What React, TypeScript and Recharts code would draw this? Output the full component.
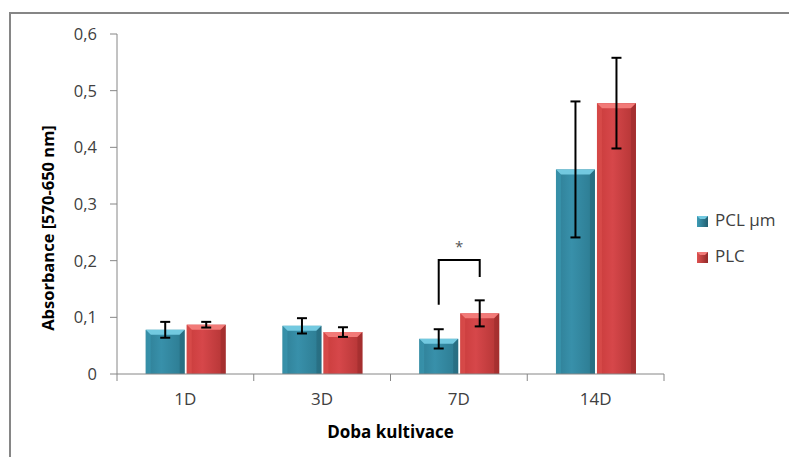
import React from 'react';
import {
  BarChart,
  Bar,
  XAxis,
  YAxis,
  ErrorBar,
  Legend,
  Label,
} from 'recharts';

// absorbance per cultivation time
const categories = ['1D', '3D', '7D', '14D'];
const pclValues = [0.078, 0.085, 0.062, 0.361];
const pclErrors = [0.014, 0.0135, 0.017, 0.12];
const plcValues = [0.087, 0.074, 0.107, 0.478];
const plcErrors = [0.005, 0.0085, 0.023, 0.08];
const yTicks = [0, 0.1, 0.2, 0.3, 0.4, 0.5, 0.6];

// significance bracket between the two bars of one category (axis units)
const sigCategory = '7D';
const sigLeftFoot = 0.122;
const sigRightFoot = 0.171;
const sigTop = 0.201;
const sigStar = 0.226;

const data = categories.map((c, i) => ({
  name: c,
  pcl: pclValues[i],
  pclErr: pclErrors[i],
  plc: plcValues[i],
  plcErr: plcErrors[i],
}));

const FONT = '"Open Sans", "Noto Sans", sans-serif';
const AXIS = '#868686';
const TEXT = '#404040';
const BAR_GAP = 2;
const X_TICK_SIZE = 7;
const X_TICK_MARGIN = 12;

const palette = {
  pcl: { id: 'pclBody', top: '#72c9e0', side: '#3d9bb5', dark: '#235f70' },
  plc: { id: 'plcBody', top: '#f27a78', side: '#de5250', dark: '#922828' },
};

function bevelParts(x: number, y: number, w: number, h: number, c: typeof palette.pcl) {
  const b = Math.min(5, w / 4, h / 2);
  return (
    <>
      <rect x={x} y={y} width={w} height={h} fill={`url(#${c.id})`} />
      <polygon
        points={`${x},${y} ${x + w},${y} ${x + w - b},${y + b} ${x + b},${y + b}`}
        fill={c.top}
      />
      <polygon
        points={`${x},${y} ${x + b},${y + b} ${x + b},${y + h} ${x},${y + h}`}
        fill={c.side}
        opacity={0.55}
      />
      <polygon
        points={`${x + w},${y} ${x + w - b},${y + b} ${x + w - b},${y + h} ${x + w},${y + h}`}
        fill={c.dark}
        opacity={0.45}
      />
    </>
  );
}

function PclShape(props: any) {
  const { x, y, width, height } = props;
  if (!height) return null;
  return <g>{bevelParts(x, y, width, height, palette.pcl)}</g>;
}

function PlcShape(props: any) {
  const { x, y, width, height, payload } = props;
  if (!height) return null;
  let bracket = null;
  if (payload && payload.name === sigCategory) {
    // map axis units to pixels with the bar's own scale (baseline at 0)
    const per = height / payload.plc;
    const py = (v: number) => y + height - v * per;
    const rx = x + width / 2;
    const lx = x - BAR_GAP - width / 2;
    bracket = (
      <g>
        <polyline
          points={`${lx},${py(sigLeftFoot)} ${lx},${py(sigTop)} ${rx},${py(sigTop)} ${rx},${py(sigRightFoot)}`}
          fill="none"
          stroke="#000"
          strokeWidth={2}
        />
        <text
          x={(lx + rx) / 2}
          y={py(sigStar)}
          textAnchor="middle"
          dominantBaseline="central"
          fontSize={15}
          fontFamily={FONT}
          fill="#555"
        >
          *
        </text>
      </g>
    );
  }
  return (
    <g>
      {bevelParts(x, y, width, height, palette.plc)}
      {bracket}
    </g>
  );
}

function CategoryTick(props: any) {
  const { x, y, payload, index } = props;
  const half = payload.offset || 0;
  const axisY = y - X_TICK_SIZE - X_TICK_MARGIN;
  return (
    <g>
      <line x1={x - half} x2={x - half} y1={axisY} y2={axisY + X_TICK_SIZE} stroke={AXIS} />
      {index === categories.length - 1 && (
        <line x1={x + half} x2={x + half} y1={axisY} y2={axisY + X_TICK_SIZE} stroke={AXIS} />
      )}
      <text x={x} y={y} dy="0.72em" textAnchor="middle" fontSize={17} fontFamily={FONT} fill={TEXT}>
        {payload.value}
      </text>
    </g>
  );
}

function LegendSwatch({ c, y }: { c: typeof palette.pcl; y: number }) {
  return (
    <svg width={11} height={11} style={{ position: 'absolute', left: 0, top: y }}>
      <defs>
        <linearGradient id={`${c.id}Leg`} x1="0" y1="0" x2="1" y2="0">
          <stop offset="0%" stopColor={c.side} />
          <stop offset="100%" stopColor={c.dark} />
        </linearGradient>
      </defs>
      <rect x={0} y={0} width={11} height={11} fill={`url(#${c.id}Leg)`} />
      <polygon points="0,0 11,0 8,3 3,3" fill={c.top} />
    </svg>
  );
}

function LegendBox() {
  const items = [
    { label: 'PCL µm', c: palette.pcl },
    { label: 'PLC', c: palette.plc },
  ];
  return (
    <div style={{ position: 'relative', width: 90, height: 60, fontFamily: FONT }}>
      {items.map((it, i) => (
        <div key={it.label}>
          <LegendSwatch c={it.c} y={i * 36 + 2} />
          <span
            style={{
              position: 'absolute',
              left: 18,
              top: i * 36 - 5,
              fontSize: 17,
              lineHeight: '22px',
              color: TEXT,
              whiteSpace: 'nowrap',
            }}
          >
            {it.label}
          </span>
        </div>
      ))}
    </div>
  );
}

const fmt = (v: number) => (v === 0 ? '0' : v.toFixed(1).replace('.', ','));

export default function App() {
  return (
    <div style={{ position: 'absolute', left: 0, top: 0, width: 789, height: 457, background: '#fff' }}>
      <div
        style={{
          position: 'absolute',
          left: 9,
          top: 12,
          width: 790,
          height: 450,
          borderTop: `2px solid ${AXIS}`,
          borderLeft: `2px solid ${AXIS}`,
        }}
      />
      <BarChart
        width={789}
        height={457}
        data={data}
        margin={{ top: 34, right: 125, bottom: 53, left: 57 }}
        barCategoryGap="21%"
        barGap={BAR_GAP}
        style={{ position: 'absolute', left: 0, top: 0 }}
      >
        <defs>
          <linearGradient id="pclBody" x1="0" y1="0" x2="1" y2="0">
            <stop offset="0%" stopColor="#2f7f96" />
            <stop offset="40%" stopColor="#3890aa" />
            <stop offset="100%" stopColor="#2c7a90" />
          </linearGradient>
          <linearGradient id="plcBody" x1="0" y1="0" x2="1" y2="0">
            <stop offset="0%" stopColor="#c93c3b" />
            <stop offset="40%" stopColor="#d6474a" />
            <stop offset="100%" stopColor="#b23434" />
          </linearGradient>
        </defs>
        <XAxis
          dataKey="name"
          height={30}
          stroke={AXIS}
          tickLine={false}
          tickSize={X_TICK_SIZE}
          tickMargin={X_TICK_MARGIN}
          tick={<CategoryTick />}
          interval={0}
        >
          <Label
            content={({ viewBox }: any) => (
              <text
                x={viewBox.x + viewBox.width / 2}
                y={viewBox.y + viewBox.height + 34}
                textAnchor="middle"
                fontSize={17}
                fontWeight="bold"
                fontFamily={FONT}
                fill="#000"
              >
                Doba kultivace
              </text>
            )}
          />
        </XAxis>
        <YAxis
          width={60}
          domain={[0, 0.6]}
          ticks={yTicks}
          interval={0}
          tickFormatter={fmt}
          stroke={AXIS}
          tickSize={7}
          tickMargin={13}
          tick={{ fontSize: 16.5, fill: TEXT, fontFamily: FONT }}
        >
          <Label
            content={({ viewBox }: any) => {
              const cx = viewBox.x - 10;
              const cy = viewBox.y + viewBox.height / 2 + 24;
              return (
                <text
                  x={cx}
                  y={cy}
                  transform={`rotate(-90 ${cx} ${cy})`}
                  textAnchor="middle"
                  dominantBaseline="central"
                  fontSize={16.5}
                  fontWeight="bold"
                  fontFamily={FONT}
                  fill="#000"
                >
                  Absorbance [570-650 nm]
                </text>
              );
            }}
          />
        </YAxis>
        <Legend
          layout="horizontal"
          verticalAlign="middle"
          align="center"
          wrapperStyle={{ left: 697, top: 214, width: 90 }}
          content={() => <LegendBox />}
        />
        <Bar dataKey="pcl" name="PCL µm" shape={<PclShape />} isAnimationActive={false}>
          <ErrorBar dataKey="pclErr" width={5} stroke="#000" strokeWidth={2} direction="y" />
        </Bar>
        <Bar dataKey="plc" name="PLC" shape={<PlcShape />} isAnimationActive={false}>
          <ErrorBar dataKey="plcErr" width={5} stroke="#000" strokeWidth={2} direction="y" />
        </Bar>
      </BarChart>
    </div>
  );
}
